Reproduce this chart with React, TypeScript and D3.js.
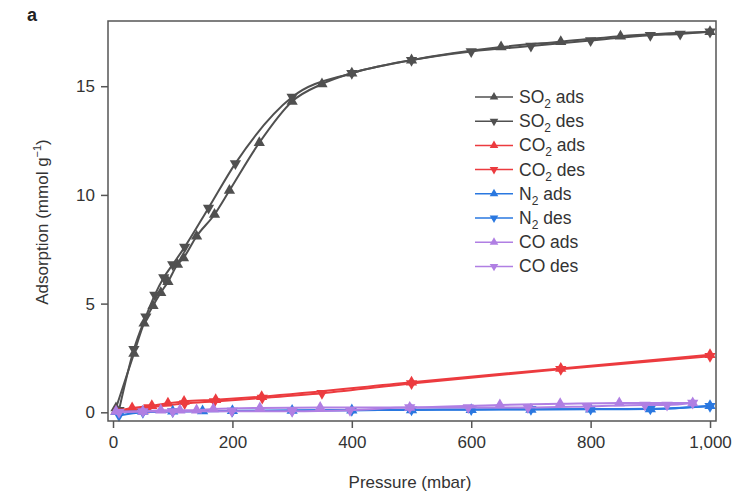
import { useRef, useEffect } from 'react';
import * as d3 from 'd3';

// isotherm readings (pressure in mbar, uptake in mmol/g)
const so2AdsP = [5, 35, 52, 67, 80, 92, 108, 118, 140, 170, 195, 245, 300, 350, 400, 500, 650, 750, 850, 1000];
const so2AdsQ = [0.2, 2.7, 4.1, 4.9, 5.5, 6.0, 6.8, 7.1, 8.1, 9.1, 10.2, 12.4, 14.3, 15.1, 15.6, 16.2, 16.8, 17.05, 17.3, 17.5];
const so2DesP = [1000, 950, 900, 800, 700, 600, 500, 400, 300, 205, 160, 120, 100, 85, 70, 55, 35, 10];
const so2DesQ = [17.5, 17.4, 17.35, 17.1, 16.85, 16.6, 16.2, 15.6, 14.5, 11.45, 9.4, 7.6, 6.8, 6.2, 5.4, 4.4, 2.9, 0.1];

const co2AdsP = [5, 32, 65, 92, 119, 172, 249, 500, 750, 1000];
const co2AdsQ = [0.05, 0.2, 0.3, 0.42, 0.5, 0.58, 0.72, 1.38, 2.02, 2.65];
const co2DesP = [1000, 750, 500, 350, 250, 170, 120, 60, 10];
const co2DesQ = [2.58, 1.98, 1.33, 0.88, 0.66, 0.5, 0.4, 0.22, 0.03];

const n2AdsP = [5, 50, 100, 150, 200, 300, 400, 500, 600, 700, 800, 900, 1000];
const n2AdsQ = [0.02, 0.04, 0.05, 0.06, 0.07, 0.08, 0.1, 0.11, 0.12, 0.13, 0.14, 0.15, 0.3];
const n2DesP = [1000, 900, 800, 700, 600, 500, 400, 300, 200, 100, 50, 10];
const n2DesQ = [0.28, 0.16, 0.15, 0.14, 0.13, 0.12, 0.1, 0.08, 0.06, 0.04, 0.0, -0.15];

const coAdsP = [5, 50, 80, 112, 140, 168, 246, 347, 497, 648, 749, 848, 971];
const coAdsQ = [0.04, 0.04, 0.1, 0.1, 0.1, 0.15, 0.2, 0.22, 0.22, 0.34, 0.39, 0.43, 0.43];
const coDesP = [971, 928, 891, 794, 695, 595, 497, 397, 300, 199, 100, 50, 10];
const coDesQ = [0.43, 0.34, 0.34, 0.27, 0.22, 0.22, 0.22, 0.1, 0.05, 0.05, 0.04, 0.04, 0.0];

const xTicks = [0, 200, 400, 600, 800, 1000];
const yTicks = [0, 5, 10, 15];

const series = [
  { gas: 'SO', sub: '2', mode: 'ads', color: '#505050', p: so2AdsP, q: so2AdsQ },
  { gas: 'SO', sub: '2', mode: 'des', color: '#505050', p: so2DesP, q: so2DesQ },
  { gas: 'CO', sub: '2', mode: 'ads', color: '#ec3b3f', p: co2AdsP, q: co2AdsQ },
  { gas: 'CO', sub: '2', mode: 'des', color: '#ec3b3f', p: co2DesP, q: co2DesQ },
  { gas: 'N', sub: '2', mode: 'ads', color: '#2a78e0', p: n2AdsP, q: n2AdsQ },
  { gas: 'N', sub: '2', mode: 'des', color: '#2a78e0', p: n2DesP, q: n2DesQ },
  { gas: 'CO', sub: '', mode: 'ads', color: '#b07fe3', p: coAdsP, q: coAdsQ },
  { gas: 'CO', sub: '', mode: 'des', color: '#b07fe3', p: coDesP, q: coDesQ },
];

const FONT = 'Liberation Sans, Arial, Helvetica, sans-serif';

const App = () => {
  const svgRef = useRef<SVGSVGElement>(null);

  useEffect(() => {
    const svg = d3.select(svgRef.current);
    svg.selectAll('*').remove();

    const left = 108, right = 716, top = 21, bottom = 421;

    const x = d3.scaleLinear().domain([-8.4, 1010]).range([left, right]);
    const y = d3.scaleLinear().domain([-0.4, 18]).range([bottom, top]);

    const tri = d3.symbol().type(d3.symbolTriangle).size(55);
    const triSmall = d3.symbol().type(d3.symbolTriangle).size(32);

    // axes
    const xAxis = svg.append('g')
      .attr('transform', `translate(0,${bottom})`)
      .call(d3.axisBottom(x).tickValues(xTicks).tickSize(7).tickPadding(8).tickFormat(d3.format(',')));
    const yAxis = svg.append('g')
      .attr('transform', `translate(${left},0)`)
      .call(d3.axisLeft(y).tickValues(yTicks).tickSize(7).tickPadding(6));

    [xAxis, yAxis].forEach(g => {
      g.select('.domain').remove();
      g.selectAll('line').attr('stroke', '#555').attr('stroke-width', 1.5);
      g.selectAll('text')
        .attr('fill', '#333')
        .style('font-family', FONT)
        .style('font-size', '17px');
    });

    // data
    const line = d3.line<[number, number]>()
      .x(d => x(d[0]))
      .y(d => y(d[1]))
      .curve(d3.curveMonotoneX);

    const plot = svg.append('g');
    series.forEach(s => {
      const pts = s.p.map((p, i) => [p, s.q[i]] as [number, number]);
      plot.append('path')
        .attr('d', line(pts))
        .attr('fill', 'none')
        .attr('stroke', s.color)
        .attr('stroke-width', 2);
      plot.selectAll(null)
        .data(pts)
        .join('path')
        .attr('d', tri())
        .attr('transform', d => `translate(${x(d[0])},${y(d[1])})${s.mode === 'des' ? ' rotate(180)' : ''}`)
        .attr('fill', s.color);
    });

    // frame
    svg.append('rect')
      .attr('x', left).attr('y', top)
      .attr('width', right - left).attr('height', bottom - top)
      .attr('fill', 'none')
      .attr('stroke', '#555')
      .attr('stroke-width', 1.5);

    // legend
    const legend = svg.append('g').attr('transform', 'translate(475,97)');
    series.forEach((s, i) => {
      const row = legend.append('g').attr('transform', `translate(0,${i * 24.2})`);
      row.append('line')
        .attr('x1', 0).attr('x2', 38)
        .attr('stroke', s.color).attr('stroke-width', 1.5);
      row.append('path')
        .attr('d', triSmall())
        .attr('transform', `translate(19,0)${s.mode === 'des' ? ' rotate(180)' : ''}`)
        .attr('fill', s.color);
      const t = row.append('text')
        .attr('x', 44).attr('y', 6)
        .attr('fill', '#333')
        .style('font-family', FONT)
        .style('font-size', '17.5px');
      t.append('tspan').text(s.gas);
      if (s.sub) {
        t.append('tspan').attr('dy', 5).style('font-size', '12px').text(s.sub);
        t.append('tspan').attr('dy', -5).text(` ${s.mode}`);
      } else {
        t.append('tspan').text(` ${s.mode}`);
      }
    });

    // axis titles
    svg.append('text')
      .attr('x', 410).attr('y', 488)
      .attr('text-anchor', 'middle')
      .attr('fill', '#333')
      .style('font-family', FONT)
      .style('font-size', '17px')
      .text('Pressure (mbar)');

    const yl = svg.append('text')
      .attr('transform', 'translate(48,222) rotate(-90)')
      .attr('text-anchor', 'middle')
      .attr('fill', '#333')
      .style('font-family', FONT)
      .style('font-size', '17px');
    yl.append('tspan').text('Adsorption (mmol g');
    yl.append('tspan').attr('dy', -7).style('font-size', '11px').text('−1');
    yl.append('tspan').attr('dy', 7).text(')');

    svg.append('text')
      .attr('x', 27).attr('y', 21)
      .attr('fill', '#222')
      .style('font-family', FONT)
      .style('font-size', '18px')
      .style('font-weight', 'bold')
      .text('a');
  }, []);

  return (
    <svg ref={svgRef} width={755} height={493}
      style={{ position: 'absolute', left: 0, top: 0, background: '#fff' }} />
  );
};

export default App;
